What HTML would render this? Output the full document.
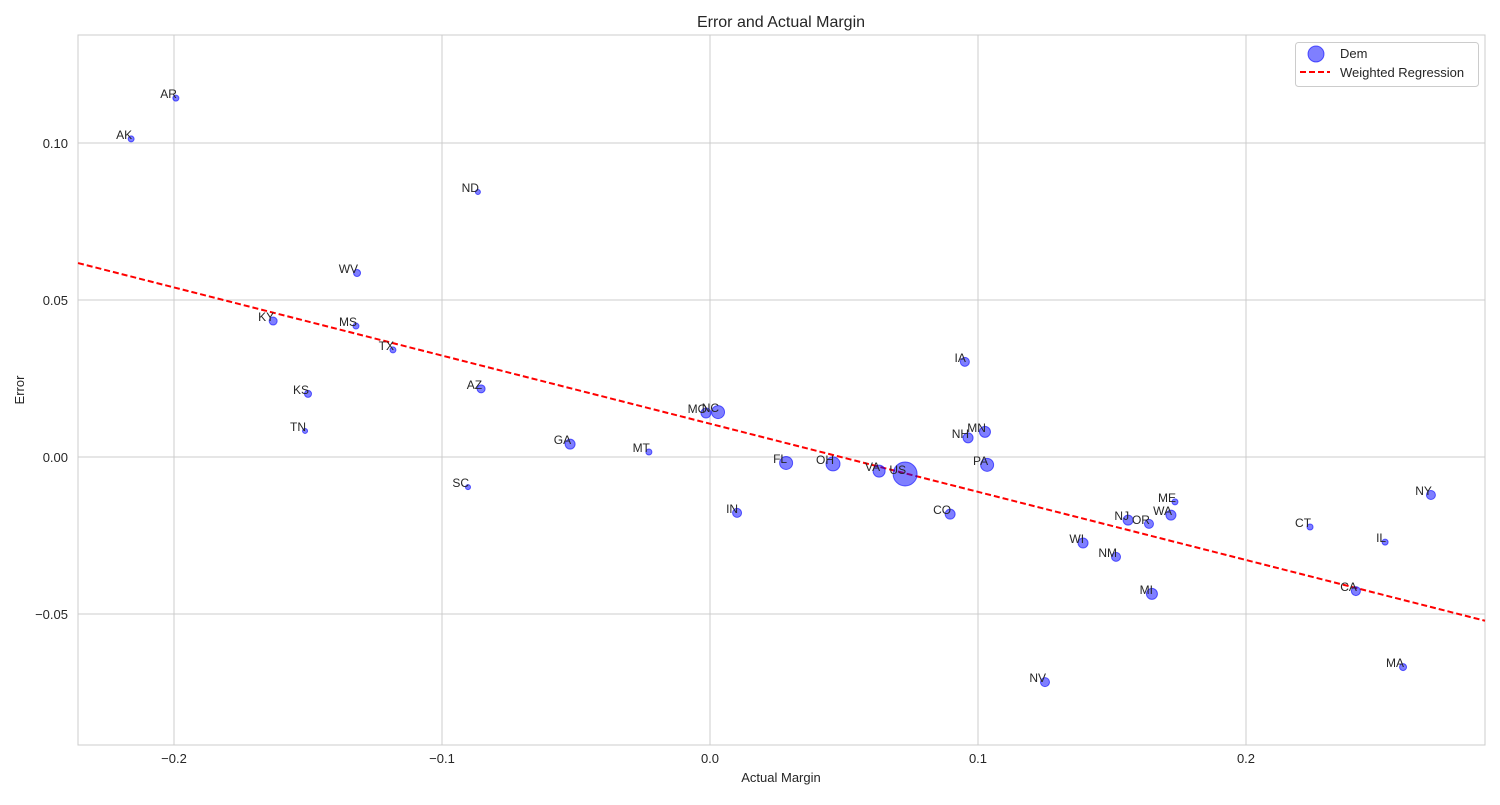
<!DOCTYPE html>
<html><head><meta charset="utf-8"><style>
body{margin:0;background:#fff;font-family:"Liberation Sans","DejaVu Sans",sans-serif;}
svg text{font-family:"Liberation Sans","DejaVu Sans",sans-serif;fill:#262626;}
</style></head><body>
<svg id="chart" width="1500" height="800" xmlns="http://www.w3.org/2000/svg">
<rect x="0" y="0" width="1500" height="800" fill="#fff"/>
<g id="grid"></g>
<rect x="78" y="35" width="1407" height="710" fill="none" stroke="#cccccc" stroke-width="1"/>
<g id="reg"></g>
<g id="pts"></g>
<g id="labels"></g>
<g id="ticks"></g>
<text x="781" y="27" text-anchor="middle" font-size="16">Error and Actual Margin</text>
<text x="781" y="782" text-anchor="middle" font-size="13">Actual Margin</text>
<text transform="translate(24,390) rotate(-90)" text-anchor="middle" font-size="13">Error</text>
<g>
<rect x="1295.5" y="42.5" width="183" height="44" rx="3" fill="#fff" stroke="#cccccc"/>
<circle cx="1316" cy="54" r="8" fill="rgba(0,0,255,0.5)" stroke="rgba(0,0,255,0.6)"/>
<text x="1340" y="58" font-size="13">Dem</text>
<line x1="1300" y1="72" x2="1330" y2="72" stroke="red" stroke-width="2" stroke-dasharray="6,3"/>
<text x="1340" y="77" font-size="13">Weighted Regression</text>
</g>
</svg>
<script>
const states=["AR","AK","ND","WV","KY","MS","TX","KS","AZ","TN","GA","MT","SC","MO","NC","FL","OH","VA","US","IN","IA","NH","MN","PA","CO","WI","NM","NJ","OR","ME","WA","MI","NV","CT","IL","NY","CA","MA"];
const margins=[-0.1993,-0.216,-0.0866,-0.1317,-0.163,-0.1321,-0.1183,-0.150,-0.0854,-0.1511,-0.0522,-0.0228,-0.0903,-0.0015,0.003,0.0284,0.0459,0.0631,0.0728,0.0101,0.0951,0.0963,0.1026,0.1034,0.0896,0.1392,0.1515,0.156,0.1638,0.1735,0.172,0.1649,0.125,0.2239,0.2519,0.269,0.241,0.2586];
const errors=[0.1143,0.1013,0.0844,0.0586,0.0433,0.0417,0.0341,0.0201,0.0217,0.0083,0.0041,0.0016,-0.0096,0.014,0.0143,-0.0019,-0.0022,-0.0045,-0.0054,-0.0178,0.0303,0.0061,0.008,-0.0025,-0.0182,-0.0274,-0.0318,-0.0201,-0.0213,-0.0143,-0.0185,-0.0436,-0.0717,-0.0223,-0.0271,-0.0121,-0.0427,-0.0669];
const weights=[3,3,2.5,3.5,4,3,3,3.5,4,2.5,5,3,2.5,5,6.5,6.5,7,6,12,4.5,4.5,5,5.5,6.5,5,5,4.5,5,4.5,3,5,5.5,4.5,3,3,4.5,4.5,3.5];
const regSlope=[-0.217];
const regIntercept=[0.0106];
const xTicks=[-0.2,-0.1,0.0,0.1,0.2];
const xTickLabels=["\u22120.2","\u22120.1","0.0","0.1","0.2"];
const yTicks=[0.10,0.05,0.00,-0.05];
const yTickLabels=["0.10","0.05","0.00","\u22120.05"];
const X0=78,X1=1485,Y0=35,Y1=745;
const xs=v=>710+v*2680, ys=v=>457-v*3140;
const NS="http://www.w3.org/2000/svg";
function mk(t,a,p){const e=document.createElementNS(NS,t);for(const k in a)e.setAttribute(k,a[k]);p.appendChild(e);return e;}
const grid=document.getElementById('grid'),ticks=document.getElementById('ticks');
xTicks.forEach((v,i)=>{const l=mk('line',{x1:xs(v),x2:xs(v),y1:Y0,y2:Y1,stroke:'#cccccc'},grid);


const t=mk('text',{x:xs(v),y:763,'text-anchor':'middle','font-size':'13'},ticks);t.textContent=xTickLabels[i];

});
yTicks.forEach((v,i)=>{const l=mk('line',{x1:X0,x2:X1,y1:ys(v),y2:ys(v),stroke:'#cccccc'},grid);


const t=mk('text',{x:68,y:ys(v)+5,'text-anchor':'end','font-size':'13'},ticks);t.textContent=yTickLabels[i];

});
const xa=(X0-710)/2680,xb=(X1-710)/2680;
const rl=mk('line',{x1:X0,y1:ys(regIntercept[0]+regSlope[0]*xa),x2:X1,y2:ys(regIntercept[0]+regSlope[0]*xb),stroke:'red','stroke-width':2,'stroke-dasharray':'6,3'},document.getElementById('reg'));


const pts=document.getElementById('pts'),lab=document.getElementById('labels');
states.forEach((s,i)=>{const cx=xs(margins[i]),cy=ys(errors[i]);
const c=mk('circle',{cx:cx,cy:cy,r:weights[i],fill:'rgba(0,0,255,0.5)',stroke:'rgba(0,0,255,0.6)'},pts);


const t=mk('text',{x:cx+1,y:cy,'text-anchor':'end','font-size':'12'},lab);t.textContent=s;

});
</script>
</body></html>
